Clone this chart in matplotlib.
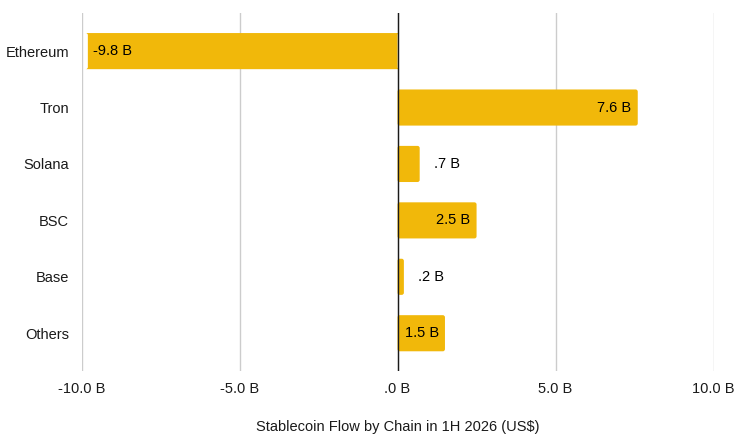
import matplotlib
matplotlib.use("Agg")
from matplotlib import pyplot as plt
from matplotlib.patches import FancyBboxPatch

plt.rcParams['font.family'] = ['Liberation Sans', 'DejaVu Sans']

chains = ["Ethereum", "Tron", "Solana", "BSC", "Base", "Others"]
flows = [-9.8, 7.6, 0.7, 2.5, 0.2, 1.5]
ticks = [-10, -5, 0, 5, 10]
tick_labels = ["-10.0 B", "-5.0 B", ".0 B", "5.0 B", "10.0 B"]
labels = ["-9.8 B", "7.6 B", ".7 B", "2.5 B", ".2 B", "1.5 B"]

gold = "#F1B80A"

fig = plt.figure(figsize=(7.48, 4.36), dpi=100)
ax = fig.add_axes([0.109, 0.149, 0.845, 0.8205])

ypos = list(range(len(chains)))
bars = ax.barh(ypos, flows, height=0.64, color=gold, zorder=3)

# swap the plain rectangles for ones with slightly rounded corners
for b in bars:
    x0, y0, w, h = b.get_x(), b.get_y(), b.get_width(), b.get_height()
    b.set_visible(False)
    rb = FancyBboxPatch((x0, y0), w, h,
                        boxstyle="round,pad=0,rounding_size=0.07",
                        mutation_aspect=0.55, facecolor=gold,
                        edgecolor="none", zorder=3)
    ax.add_patch(rb)

# value labels: inside the bar end when there is room, else just outside
for y, v, lab in zip(ypos, flows, labels):
    if abs(v) > 1.0:
        if v < 0:
            ax.annotate(lab, (v, y), xytext=(4, 0), textcoords="offset points",
                        ha="left", va="center", fontsize=10.5, zorder=4)
        else:
            ax.annotate(lab, (v, y), xytext=(-4.5, 0), textcoords="offset points",
                        ha="right", va="center", fontsize=10.5, zorder=4)
    else:
        ax.annotate(lab, (v, y), xytext=(10, 0), textcoords="offset points",
                    ha="left", va="center", fontsize=10.5, zorder=4)

ax.set_xlim(-10, 10)
ax.set_ylim(5.67, -0.67)
ax.set_xticks(ticks)
ax.set_xticklabels(tick_labels)
ax.set_yticks(ypos)
ax.set_yticklabels(chains)
ax.tick_params(axis="both", length=0, labelsize=10.5, colors="#1a1a1a")
ax.tick_params(axis="y", pad=9)
ax.tick_params(axis="x", pad=8)

for s in ax.spines.values():
    s.set_visible(False)
ax.grid(axis="x", color="#cccccc", linewidth=1, zorder=0)
ax.axvline(0, color="#1a1a1a", linewidth=1, zorder=5)

ax.set_xlabel("Stablecoin Flow by Chain in 1H 2026 (US$)", fontsize=10.5,
              labelpad=17, color="#1a1a1a")

fig.savefig("out.png", dpi=100)
